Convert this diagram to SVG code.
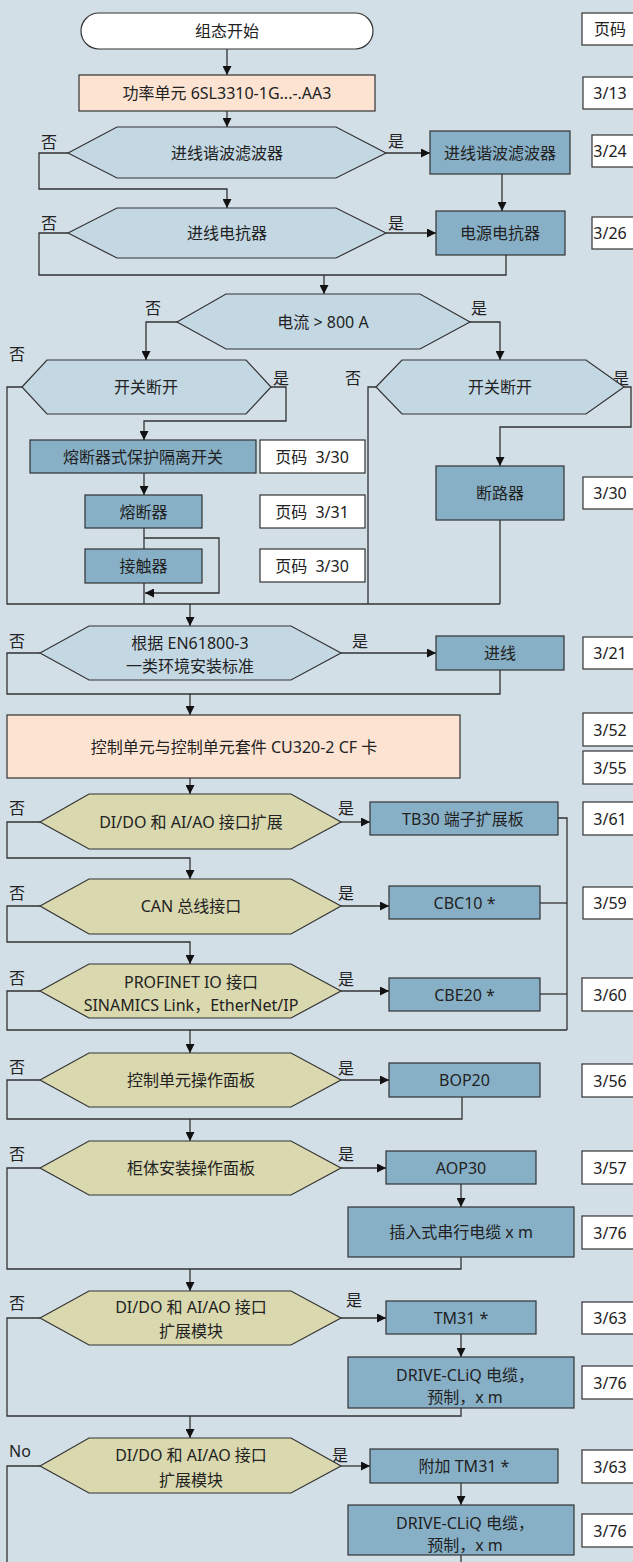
<svg xmlns="http://www.w3.org/2000/svg" width="633" height="1562" viewBox="0 0 633 1562">
<style>
.t{font-family:"Noto Sans","Noto Sans CJK SC",sans-serif;font-size:16px;fill:#222;text-anchor:middle;dominant-baseline:central}
.l{font-family:"Noto Sans CJK SC","Noto Sans",sans-serif;font-size:16px;fill:#222;text-anchor:middle;dominant-baseline:central}
.pre{white-space:pre}
.hex{fill:#c4d8e4;stroke:#333;stroke-width:1.2}
.hexk{fill:#d9d8ae;stroke:#333;stroke-width:1.2}
.box{fill:#87b0c7;stroke:#333;stroke-width:1.2}
.peach{fill:#fde3d2;stroke:#333;stroke-width:1.2}
.page{fill:#fff;stroke:#333;stroke-width:1.2}
.term{fill:#fff;stroke:#333;stroke-width:1.2}
.c path{fill:none;stroke:#333;stroke-width:1.3}
</style>
<defs>
<marker id="a" viewBox="0 0 10 10" refX="10" refY="5" markerWidth="9" markerHeight="9" markerUnits="userSpaceOnUse" orient="auto"><path d="M0,0 L10,5 L0,10 z" fill="#111"/></marker>
</defs>
<rect x="0" y="0" width="633" height="1562" fill="#d3dfe7"/>

<g class="c" id="connectors">
<path d="M227,49 V75" marker-end="url(#a)"/>
<path d="M227,111 V127" marker-end="url(#a)"/>
<path d="M386,153 H430" marker-end="url(#a)"/>
<path d="M68,153 H39 V189 H227 V208" marker-end="url(#a)"/>
<path d="M502,174 V211" marker-end="url(#a)"/>
<path d="M386,233 H436" marker-end="url(#a)"/>
<path d="M68,233 H39 V275 H506 V255"/>
<path d="M324,275 V294" marker-end="url(#a)"/>
<path d="M177,322 H146 V360" marker-end="url(#a)"/>
<path d="M470,322 H500 V360" marker-end="url(#a)"/>
<path d="M271,387 H286 V421 H144 V440" marker-end="url(#a)"/>
<path d="M144,473 V495" marker-end="url(#a)"/>
<path d="M144,528 V549"/>
<path d="M144,538 H219 V593 H145" marker-end="url(#a)"/>
<path d="M144,583 V604"/>
<path d="M22,387 H7 V604 H500"/>
<path d="M624,387 H631 V427 H500 V466" marker-end="url(#a)"/>
<path d="M500,520 V604"/>
<path d="M376,387 H368 V604"/>
<path d="M190,604 V626" marker-end="url(#a)"/>
<path d="M341,653 H436" marker-end="url(#a)"/>
<path d="M40,653 H7 V694 H500 V670"/>
<path d="M190,694 V715" marker-end="url(#a)"/>
<path d="M190,778 V794" marker-end="url(#a)"/>
<path d="M341,822 H370" marker-end="url(#a)"/>
<path d="M40,822 H7 V858 H190 V879" marker-end="url(#a)"/>
<path d="M341,906 H389" marker-end="url(#a)"/>
<path d="M40,906 H7 V942 H190 V964" marker-end="url(#a)"/>
<path d="M341,991 H389" marker-end="url(#a)"/>
<path d="M558,818 H567 V1030"/>
<path d="M540,903 H567"/>
<path d="M540,994 H567"/>
<path d="M40,991 H7 V1030 H567"/>
<path d="M190,1030 V1053" marker-end="url(#a)"/>
<path d="M341,1080 H389" marker-end="url(#a)"/>
<path d="M40,1080 H7 V1119 H462 V1097"/>
<path d="M190,1119 V1141" marker-end="url(#a)"/>
<path d="M341,1168 H386" marker-end="url(#a)"/>
<path d="M461,1184 V1207" marker-end="url(#a)"/>
<path d="M40,1168 H7 V1269 H461 V1257"/>
<path d="M190,1269 V1291" marker-end="url(#a)"/>
<path d="M341,1318 H386" marker-end="url(#a)"/>
<path d="M461,1334 V1357" marker-end="url(#a)"/>
<path d="M40,1318 H7 V1416 H461 V1408"/>
<path d="M190,1416 V1438" marker-end="url(#a)"/>
<path d="M341,1466 H370" marker-end="url(#a)"/>
<path d="M461,1483 V1505" marker-end="url(#a)"/>
<path d="M461,1555 V1562"/>
<path d="M40,1466 H7 V1562"/>
</g>

<g id="labels">
<text class="l" x="49" y="141">否</text><text class="l" x="396" y="140">是</text>
<text class="l" x="49" y="222">否</text><text class="l" x="396" y="222">是</text>
<text class="l" x="153" y="307">否</text><text class="l" x="479" y="307">是</text>
<text class="l" x="17" y="353">否</text><text class="l" x="281" y="377">是</text>
<text class="l" x="353" y="377">否</text><text class="l" x="621" y="377">是</text>
<text class="l" x="17" y="640">否</text><text class="l" x="360" y="640">是</text>
<text class="l" x="17" y="807">否</text><text class="l" x="346" y="807">是</text>
<text class="l" x="17" y="892">否</text><text class="l" x="346" y="892">是</text>
<text class="l" x="17" y="977">否</text><text class="l" x="346" y="978">是</text>
<text class="l" x="17" y="1066">否</text><text class="l" x="346" y="1067">是</text>
<text class="l" x="17" y="1153">否</text><text class="l" x="346" y="1153">是</text>
<text class="l" x="17" y="1302">否</text><text class="l" x="354" y="1299">是</text>
<text class="t" x="20" y="1451">No</text><text class="l" x="340" y="1454">是</text>
</g>

<g id="start"><rect class="term" x="81" y="13" width="292" height="36" rx="18"/><text class="t" x="227" y="31">组态开始</text></g>
<g id="p0"><rect class="page" x="582" y="13" width="60" height="32"/><text class="t" x="610" y="29">页码</text></g>
<g id="power"><rect class="peach" x="79" y="75" width="296" height="36"/><text class="t" x="227" y="93">功率单元 6SL3310-1G...-.AA3</text></g>
<g id="p1"><rect class="page" x="583" y="77" width="60" height="32"/><text class="t" x="610" y="93">3/13</text></g>

<g id="d1"><polygon class="hex" points="68,153 117,127 336,127 386,153 336,178 117,178"/><text class="t" x="227" y="153">进线谐波滤波器</text></g>
<g id="b1"><rect class="box" x="430" y="131" width="140" height="43"/><text class="t" x="500" y="152.5">进线谐波滤波器</text></g>
<g id="p2"><rect class="page" x="592" y="135" width="50" height="32"/><text class="t" x="610" y="151">3/24</text></g>

<g id="d2"><polygon class="hex" points="68,233 117,208 336,208 386,233 336,258 117,258"/><text class="t" x="227" y="233">进线电抗器</text></g>
<g id="b2"><rect class="box" x="436" y="211" width="129" height="44"/><text class="t" x="500" y="233">电源电抗器</text></g>
<g id="p3"><rect class="page" x="592" y="217" width="50" height="32"/><text class="t" x="610" y="233">3/26</text></g>

<g id="d3"><polygon class="hex" points="177,322 226,294 420,294 470,322 420,349 226,349"/><text class="t" x="323" y="322">电流 &gt; 800 A</text></g>

<g id="d4l"><polygon class="hex" points="22,387 47,360 246,360 271,387 246,414 47,414"/><text class="t" x="146" y="387">开关断开</text></g>
<g id="b3"><rect class="box" x="30" y="440" width="226" height="33"/><text class="t" x="143" y="456.5">熔断器式保护隔离开关</text></g>
<g id="p4"><rect class="page" x="260" y="440" width="105" height="33"/><text class="t pre" x="312" y="456.5" xml:space="preserve">页码  3/30</text></g>
<g id="b4"><rect class="box" x="85" y="495" width="117" height="33"/><text class="t" x="143.5" y="511.5">熔断器</text></g>
<g id="p5"><rect class="page" x="260" y="495" width="105" height="33"/><text class="t pre" x="312" y="511.5" xml:space="preserve">页码  3/31</text></g>
<g id="b5"><rect class="box" x="85" y="549" width="117" height="34"/><text class="t" x="143.5" y="566">接触器</text></g>
<g id="p6"><rect class="page" x="260" y="549" width="105" height="33"/><text class="t pre" x="312" y="565.5" xml:space="preserve">页码  3/30</text></g>

<g id="d4r"><polygon class="hex" points="376,387 402,360 586,360 624,387 586,414 402,414"/><text class="t" x="500" y="387">开关断开</text></g>
<g id="b6"><rect class="box" x="436" y="466" width="128" height="54"/><text class="t" x="500" y="493">断路器</text></g>
<g id="p7"><rect class="page" x="583" y="477" width="55" height="32"/><text class="t" x="610" y="493">3/30</text></g>

<g id="d5"><polygon class="hex" points="40,653 89,626 291,626 341,653 291,680 89,680"/><text class="t" x="190" y="643">根据 EN61800-3</text><text class="t" x="190" y="666">一类环境安装标准</text></g>
<g id="b7"><rect class="box" x="436" y="636" width="128" height="34"/><text class="t" x="500" y="653">进线</text></g>
<g id="p8"><rect class="page" x="583" y="637" width="55" height="32"/><text class="t" x="610" y="653">3/21</text></g>

<g id="cu"><rect class="peach" x="7" y="715" width="453" height="63"/><text class="t" x="234" y="747">控制单元与控制单元套件 CU320-2 CF 卡</text></g>
<g id="p9"><rect class="page" x="583" y="713" width="55" height="33"/><text class="t" x="610" y="729.5">3/52</text></g>
<g id="p10"><rect class="page" x="583" y="751" width="55" height="33"/><text class="t" x="610" y="767.5">3/55</text></g>

<g id="d6"><polygon class="hexk" points="40,822 89,794 291,794 341,822 291,849 89,849"/><text class="t" x="191" y="822">DI/DO 和 AI/AO 接口扩展</text></g>
<g id="b8"><rect class="box" x="370" y="802" width="188" height="33"/><text class="t" x="463" y="818.5">TB30 端子扩展板</text></g>
<g id="p11"><rect class="page" x="583" y="802" width="55" height="33"/><text class="t" x="610" y="818.5">3/61</text></g>

<g id="d7"><polygon class="hexk" points="40,906 89,879 291,879 341,906 291,934 89,934"/><text class="t" x="191" y="906">CAN 总线接口</text></g>
<g id="b9"><rect class="box" x="389" y="886" width="151" height="33"/><text class="t" x="464.5" y="902.5">CBC10 *</text></g>
<g id="p12"><rect class="page" x="583" y="887" width="55" height="32"/><text class="t" x="610" y="903">3/59</text></g>

<g id="d8"><polygon class="hexk" points="40,991 89,964 291,964 341,991 291,1018 89,1018"/><text class="t" x="191" y="982">PROFINET IO 接口</text><text class="t" x="191" y="1005">SINAMICS Link，EtherNet/IP</text></g>
<g id="b10"><rect class="box" x="389" y="978" width="151" height="33"/><text class="t" x="464.5" y="994.5">CBE20 *</text></g>
<g id="p13"><rect class="page" x="582" y="978" width="56" height="33"/><text class="t" x="610" y="994.5">3/60</text></g>

<g id="d9"><polygon class="hexk" points="40,1080 89,1053 291,1053 341,1080 291,1107 89,1107"/><text class="t" x="191" y="1080">控制单元操作面板</text></g>
<g id="b11"><rect class="box" x="389" y="1063" width="151" height="34"/><text class="t" x="464.5" y="1080">BOP20</text></g>
<g id="p14"><rect class="page" x="582" y="1064" width="56" height="33"/><text class="t" x="610" y="1080.5">3/56</text></g>

<g id="d10"><polygon class="hexk" points="40,1168 89,1141 291,1141 341,1168 291,1195 89,1195"/><text class="t" x="191" y="1168">柜体安装操作面板</text></g>
<g id="b12"><rect class="box" x="386" y="1151" width="150" height="33"/><text class="t" x="461" y="1167.5">AOP30</text></g>
<g id="p15"><rect class="page" x="582" y="1151" width="56" height="33"/><text class="t" x="610" y="1167.5">3/57</text></g>
<g id="b13"><rect class="box" x="348" y="1207" width="226" height="50"/><text class="t" x="461" y="1232">插入式串行电缆 x m</text></g>
<g id="p16"><rect class="page" x="582" y="1216" width="56" height="33"/><text class="t" x="610" y="1232.5">3/76</text></g>

<g id="d11"><polygon class="hexk" points="40,1318 89,1291 291,1291 341,1318 291,1345 89,1345"/><text class="t" x="191" y="1307">DI/DO 和 AI/AO 接口</text><text class="t" x="191" y="1331">扩展模块</text></g>
<g id="b14"><rect class="box" x="386" y="1301" width="150" height="33"/><text class="t" x="461" y="1317.5">TM31 *</text></g>
<g id="p17"><rect class="page" x="582" y="1302" width="56" height="32"/><text class="t" x="610" y="1318">3/63</text></g>
<g id="b15"><rect class="box" x="348" y="1357" width="226" height="51"/><text class="t" x="465" y="1375">DRIVE-CLiQ 电缆，</text><text class="t" x="465" y="1397">预制，x m</text></g>
<g id="p18"><rect class="page" x="582" y="1366" width="56" height="33"/><text class="t" x="610" y="1382.5">3/76</text></g>

<g id="d12"><polygon class="hexk" points="40,1466 89,1438 291,1438 341,1466 291,1493 89,1493"/><text class="t" x="191" y="1455">DI/DO 和 AI/AO 接口</text><text class="t" x="191" y="1480">扩展模块</text></g>
<g id="b16"><rect class="box" x="370" y="1449" width="188" height="34"/><text class="t" x="464" y="1466">附加 TM31 *</text></g>
<g id="p19"><rect class="page" x="582" y="1450" width="56" height="33"/><text class="t" x="610" y="1466.5">3/63</text></g>
<g id="b17"><rect class="box" x="348" y="1505" width="226" height="50"/><text class="t" x="465" y="1523">DRIVE-CLiQ 电缆，</text><text class="t" x="465" y="1545">预制，x m</text></g>
<g id="p20"><rect class="page" x="582" y="1514" width="56" height="33"/><text class="t" x="610" y="1530.5">3/76</text></g>
</svg>
